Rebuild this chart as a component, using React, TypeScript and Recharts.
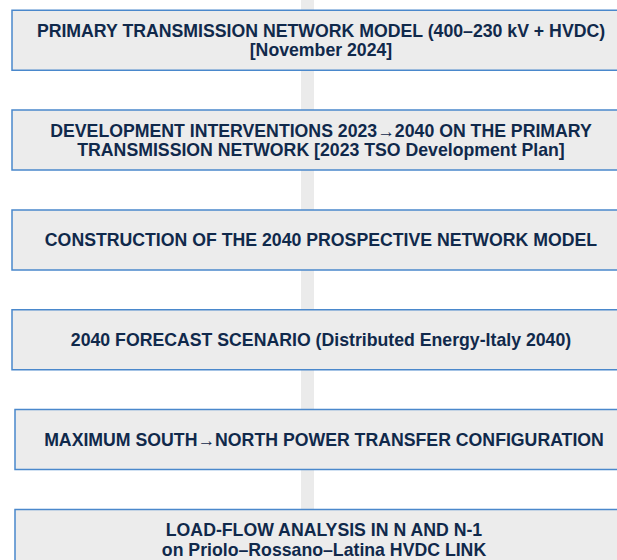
import React from "react";
import {
  BarChart,
  Bar,
  XAxis,
  YAxis,
  LabelList,
  ReferenceArea,
} from "recharts";

// Flow steps, top to bottom (line breaks as in the original)
const STEPS = [
  "PRIMARY TRANSMISSION NETWORK MODEL (400–230 kV + HVDC)\n[November 2024]",
  "DEVELOPMENT INTERVENTIONS 2023→2040 ON THE PRIMARY\nTRANSMISSION NETWORK [2023 TSO Development Plan]",
  "CONSTRUCTION OF THE 2040 PROSPECTIVE NETWORK MODEL",
  "2040 FORECAST SCENARIO (Distributed Energy-Italy 2040)",
  "MAXIMUM SOUTH→NORTH POWER TRANSFER CONFIGURATION",
  "LOAD-FLOW ANALYSIS IN N AND N-1\non Priolo–Rossano–Latina HVDC LINK",
];

// horizontal extent of each box on a 0..617 axis
const BOX_START = [12, 12, 12, 12, 15, 15];
const BOX_END = [630, 630, 630, 630, 633, 633];

// the grey spine behind the boxes
const SPINE = [301, 314];

const data = STEPS.map((step, i) => ({
  step,
  extent: [BOX_START[i], BOX_END[i]],
}));

const TEXT_COLOR = "#10294b";
const FONT = '"Liberation Sans", Arial, sans-serif';

// eslint-disable-next-line @typescript-eslint/no-explicit-any
function StepLabel(props: any) {
  const { x, y, width, height, value } = props;
  const lines = String(value).split("\n");
  const lineH = 19.5;
  const cx = x + width / 2;
  const cy = y + height / 2;
  const first = cy - ((lines.length - 1) * lineH) / 2;
  return (
    <text
      textAnchor="middle"
      fill={TEXT_COLOR}
      fontFamily={FONT}
      fontWeight={700}
      fontSize={17.7}
    >
      {lines.map((l, i) => (
        <tspan key={i} x={cx} y={first + i * lineH} dy="0.36em">
          {l}
        </tspan>
      ))}
    </text>
  );
}

export default function App() {
  return (
    <div style={{ position: "fixed", left: 0, top: 0, width: 617, height: 560, background: "#fff", overflow: "hidden" }}>
      <BarChart
        width={617}
        height={560}
        data={data}
        layout="vertical"
        margin={{ top: -9.8, right: 0, bottom: -29.3, left: 0 }}
        barSize={60}
      >
        <XAxis type="number" hide domain={[0, 617]} allowDataOverflow />
        <YAxis type="category" dataKey="step" hide />
        <ReferenceArea
          x1={SPINE[0]}
          x2={SPINE[1]}
          y1={STEPS[0]}
          y2={STEPS[STEPS.length - 1]}
          fill="#ebebeb"
          fillOpacity={1}
          stroke="none"
          ifOverflow="visible"
        />
        <Bar
          dataKey="extent"
          fill="#ececec"
          stroke="#4a88cc"
          strokeWidth={1.5}
          isAnimationActive={false}
        >
          <LabelList dataKey="step" content={<StepLabel />} />
        </Bar>
      </BarChart>
    </div>
  );
}
